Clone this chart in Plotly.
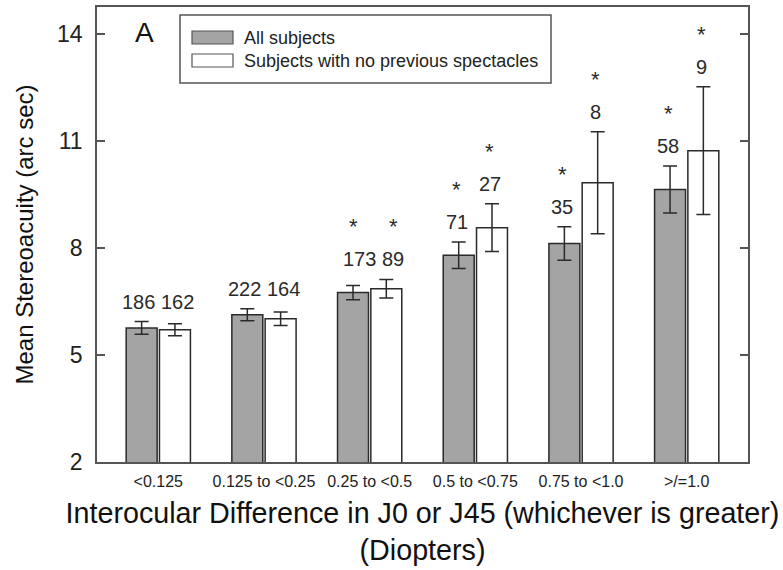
import plotly.graph_objects as go

categories = ["<0.125", "0.125 to <0.25", "0.25 to <0.5", "0.5 to <0.75", "0.75 to <1.0", ">/=1.0"]
all_mean = [5.76, 6.13, 6.75, 7.80, 8.13, 9.64]
all_err = [0.18, 0.17, 0.20, 0.37, 0.47, 0.66]
all_n = ["186", "222", "173", "71", "35", "58"]
all_sig = [False, False, True, True, True, True]

nospec_mean = [5.71, 6.02, 6.86, 8.57, 9.83, 10.73]
nospec_err = [0.17, 0.19, 0.26, 0.67, 1.43, 1.79]
nospec_n = ["162", "164", "89", "27", "8", "9"]
nospec_sig = [False, False, True, True, True, True]

series_names = ["All subjects", "Subjects with no previous spectacles"]
y_ticks = [2, 5, 8, 11, 14]

FONT = "Arial, Liberation Sans, sans-serif"
DARK = "#2a2a2a"
GRAY = "#a4a4a4"
FRAME = "#555555"

fig = go.Figure()
fig.add_trace(go.Bar(
    x=categories, y=all_mean, name=series_names[0],
    marker=dict(color=GRAY, line=dict(color=DARK, width=1.5)),
    error_y=dict(type="data", array=all_err, color=DARK, thickness=1.5, width=7),
    showlegend=False,
))
fig.add_trace(go.Bar(
    x=categories, y=nospec_mean, name=series_names[1],
    marker=dict(color="white", line=dict(color=DARK, width=1.5)),
    error_y=dict(type="data", array=nospec_err, color=DARK, thickness=1.5, width=7),
    showlegend=False,
))

bargap = 0.37
bargroupgap = 0.07
slot = (1 - bargap) / 2
offsets = [-slot / 2, slot / 2]

annotations = []
for i, cat in enumerate(categories):
    tops = [all_mean[i] + all_err[i], nospec_mean[i] + nospec_err[i]]
    if i < 3:
        # low groups: both counts written together, centred over the group
        top = max(tops)
        annotations.append(dict(
            x=i, y=top, xref="x", yref="y", text=all_n[i] + " " + nospec_n[i],
            showarrow=False, yanchor="bottom", yshift=7, xshift=(4 if i == 2 else 0),
            font=dict(family=FONT, size=20, color=DARK),
        ))
        for k, sig in enumerate([all_sig[i], nospec_sig[i]]):
            if sig:
                annotations.append(dict(
                    x=i, y=top, xref="x", yref="y", text="*",
                    showarrow=False, yanchor="bottom", yshift=38,
                    xshift=(-20 if k == 0 else 20) + (4 if i == 2 else 0),
                    font=dict(family=FONT, size=22, color=DARK),
                ))
    else:
        for k, (n, sig) in enumerate([(all_n[i], all_sig[i]), (nospec_n[i], nospec_sig[i])]):
            annotations.append(dict(
                x=i + offsets[k], y=tops[k], xref="x", yref="y", text=n,
                showarrow=False, yanchor="bottom", yshift=7, xshift=-2,
                font=dict(family=FONT, size=20, color=DARK),
            ))
            if sig:
                annotations.append(dict(
                    x=i + offsets[k], y=tops[k], xref="x", yref="y", text="*",
                    showarrow=False, yanchor="bottom", yshift=38, xshift=-2,
                    font=dict(family=FONT, size=22, color=DARK),
                ))

# panel letter
annotations.append(dict(x=0.055, y=0.945, xref="paper", yref="paper", text="A",
                        showarrow=False, xanchor="left", yanchor="middle",
                        font=dict(family=FONT, size=28, color="#111")))

# custom legend
L, R, T, B = 97, 748, 7, 462
def px(xp):
    return (xp - L) / (R - L)
def py(yp):
    return (B - yp) / (B - T)

shapes = [
    dict(type="rect", xref="paper", yref="paper", x0=px(180), x1=px(551), y0=py(83), y1=py(15),
         line=dict(color=FRAME, width=1.5), fillcolor="white", layer="above"),
    dict(type="rect", xref="paper", yref="paper", x0=px(192), x1=px(233), y0=py(44), y1=py(31),
         line=dict(color=FRAME, width=1.2), fillcolor=GRAY, layer="above"),
    dict(type="rect", xref="paper", yref="paper", x0=px(192), x1=px(233), y0=py(67), y1=py(54),
         line=dict(color=FRAME, width=1.2), fillcolor="white", layer="above"),
]
annotations.append(dict(x=px(242), y=py(38), xref="paper", yref="paper", text=series_names[0],
                        showarrow=False, xanchor="left", yanchor="middle",
                        font=dict(family=FONT, size=18, color="#222")))
annotations.append(dict(x=px(242), y=py(61), xref="paper", yref="paper", text=series_names[1],
                        showarrow=False, xanchor="left", yanchor="middle",
                        font=dict(family=FONT, size=18, color="#222")))

fig.update_layout(
    width=783, height=570,
    margin=dict(l=L, r=783 - R, t=T, b=570 - B, pad=0, autoexpand=False),
    paper_bgcolor="white", plot_bgcolor="white",
    barmode="group", bargap=bargap, bargroupgap=bargroupgap,
    annotations=annotations, shapes=shapes,
    font=dict(family=FONT, color="#222"),
)
fig.update_xaxes(
    range=[-0.58, 5.58], showline=True, mirror=True, linecolor=FRAME, linewidth=1.5,
    ticks="", showgrid=False, automargin=False, ticklabelstandoff=4,
    tickfont=dict(family=FONT, size=16, color="#222"),
    title=dict(text="Interocular Difference in J0 or J45 (whichever is greater)<br>(Diopters)",
               font=dict(family=FONT, size=28.7, color="#111"), standoff=14),
)
fig.update_yaxes(
    range=[2, 14.76], tickvals=y_ticks, showline=True, mirror="ticks", linecolor=FRAME, linewidth=1.5,
    ticks="inside", ticklen=8, tickcolor=FRAME, tickwidth=1.5, showgrid=False, zeroline=False,
    automargin=False,
    tickfont=dict(family=FONT, size=23, color="#222"), ticklabelstandoff=8,
    title=dict(text="Mean Stereoacuity (arc sec)", font=dict(family=FONT, size=24, color="#111"),
               standoff=17),
)

fig.write_html("out.html", config={"displayModeBar": False},
               post_script="document.body.style.margin='0';")
